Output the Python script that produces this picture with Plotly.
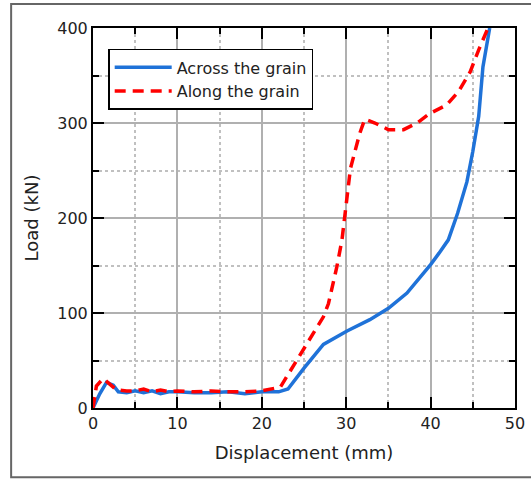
import plotly.graph_objects as go

across_x = [0, 0.8, 1.6, 2.4, 3.0, 4.0, 5.0, 6.0, 7.0, 8.0, 9.0, 10.0, 12.0, 14.0, 16.0, 18.0, 20.0, 22.0, 23.1, 25.0, 27.3, 30.1, 32.8, 35.0, 37.2, 38.7, 40.0, 41.0, 42.1, 43.2, 44.3, 45.0, 45.7, 46.2, 47.0]
across_y = [0, 15, 27, 24, 17, 16, 18, 16, 18, 15, 17, 17, 16, 16, 17, 15, 17, 17, 20, 42, 67, 81, 93, 105, 121, 137, 151, 163, 177, 205, 238, 270, 307, 359, 400]

along_x = [0, 0.4, 1.2, 2.0, 2.8, 4.0, 5.0, 6.0, 7.0, 8.0, 9.0, 10.0, 12.0, 14.0, 16.0, 18.0, 20.0, 22.2, 24.9, 27.3, 27.9, 28.9, 29.5, 30.5, 31.6, 32.2, 33.4, 35.0, 36.8, 38.4, 39.9, 41.9, 43.3, 44.7, 45.7, 46.8]
along_y = [0, 23, 31, 25, 19, 18, 18, 20, 17, 19, 17, 18, 17, 18, 17, 17, 18, 22, 61, 96, 110, 149, 177, 252, 289, 304, 300, 293, 293, 300, 310, 319, 333, 354, 377, 400]

x_ticks = [0, 10, 20, 30, 40, 50]
y_ticks = [0, 100, 200, 300, 400]

FONT = "DejaVu Sans, Verdana, sans-serif"

fig = go.Figure()
fig.add_trace(go.Scatter(x=across_x, y=across_y, mode="lines", name="Across the grain",
                         line=dict(color="#1f72d8", width=3.5)))
fig.add_trace(go.Scatter(x=along_x, y=along_y, mode="lines", name="Along the grain",
                         line=dict(color="#ff0000", width=3.5, dash="11px,7px")))

axis_common = dict(
    showline=True, linecolor="black", linewidth=2, mirror="allticks",
    ticks="inside", ticklen=11, tickwidth=2, tickcolor="black",
    showgrid=True, gridcolor="#b0b0b0", gridwidth=1.5,
    zeroline=False, automargin=False,
    tickfont=dict(family=FONT, size=16, color="#222"),
    minor=dict(ticks="inside", ticklen=6, tickwidth=1.5, tickcolor="black",
               showgrid=True, gridcolor="#c0c0c0", griddash="dot", gridwidth=1.5),
)

fig.update_xaxes(range=[0, 50], tickvals=x_ticks, minor_dtick=5,
                 title=dict(text="Displacement (mm)", font=dict(family=FONT, size=18, color="#222"), standoff=14),
                 **axis_common)
fig.update_yaxes(range=[0, 400], tickvals=y_ticks, minor_dtick=50,
                 title=dict(text="Load (kN)", font=dict(family=FONT, size=18, color="#222"), standoff=14),
                 **axis_common)

fig.update_layout(
    width=531, height=479,
    margin=dict(l=93, r=16, t=28, b=71, autoexpand=False),
    paper_bgcolor="white", plot_bgcolor="white",
    showlegend=True,
    legend=dict(x=0.036, y=0.945, xanchor="left", yanchor="top",
                bgcolor="white", bordercolor="black", borderwidth=1.5,
                font=dict(family=FONT, size=16, color="#222"),
                itemwidth=57, tracegroupgap=0),
    shapes=[dict(type="rect", xref="paper", yref="paper",
                 x0=-0.194, x1=1.2, y0=-0.182, y1=1.063,
                 line=dict(color="#666", width=2), layer="below")],
)

fig.write_html("out.html", config={"displayModeBar": False},
               post_script="document.body.style.margin='0';document.body.style.overflow='hidden';")
